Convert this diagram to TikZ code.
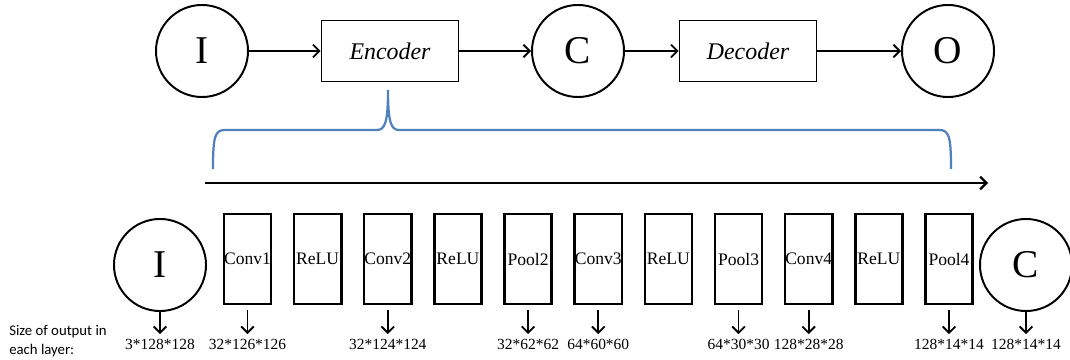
\documentclass[tikz,border=0pt]{standalone}
\usepackage{fontspec}
\setmainfont{Liberation Serif}
\newfontfamily\calibrifont{Carlito}
\usetikzlibrary{arrows.meta}
\definecolor{braceblue}{RGB}{79,129,189}
\tikzstyle{ring}=[shape=circle,minimum size=2.3cm,inner sep=0,line width=1.4pt,draw,font=\fontsize{28}{28}\selectfont]
\tikzstyle{coder}=[rectangle,minimum width=3.43cm,minimum height=1.53cm,draw,line width=1pt,font=\fontsize{17}{17}\selectfont\itshape]
\tikzstyle{layer}=[rectangle,minimum width=1.18cm,minimum height=2.25cm,inner sep=0,draw,line width=1.8pt,font=\fontsize{12.5}{12.5}\selectfont]
\tikzstyle{size}=[inner sep=0,anchor=north,font=\fontsize{11}{11}\selectfont]
\tikzstyle{arrow}=[line width=1.3pt,-{Straight Barb[length=4.5pt,width=9pt]}]
\tikzstyle{brace}=[line width=1.6pt,draw=braceblue]

\begin{document}
\begin{tikzpicture}[x=0.025cm,y=-0.025cm]
\useasboundingbox (0,0) rectangle (1070,360);
\node[ring] (I) at (202,51) {I};
\node[coder] (enc) at (390,51) {Encoder};
\node[ring] (C) at (578,51) {C};
\node[coder] (dec) at (748,51) {Decoder};
\node[ring] (O) at (948,51) {O};
\draw[arrow] (I)--(enc);
\draw[arrow] (enc)--(C);
\draw[arrow] (C)--(dec);
\draw[arrow] (dec)--(O);
% brace under the encoder
\coordinate (tip) at (388,90);
\draw[brace] (213,169) .. controls (213,136) and (215,130) .. (225,130) -- (377,130)
  .. controls (385,130) and (388,122) .. (tip) .. controls (388,122) and (391,130) .. (399,130)
  -- (939,130) .. controls (949,130) and (951,136) .. (951,169);
\coordinate (flowstart) at (205,183);
\coordinate (flowend) at (988,183);
\draw[arrow,line width=1.6pt] (flowstart)--(flowend);
\node[ring] (in) at (160,265) {I};
\foreach \txt [count=\i] in {Conv1,ReLU,Conv2,ReLU,Pool2,Conv3,ReLU,Pool3,Conv4,ReLU,Pool4}
  \node[layer] (l\i) at (177.35+70.15*\i,259) {\txt};
\node[ring] (out) at (1026,265) {C};
\foreach \n/\s in {in/3*128*128,l1/32*126*126,l3/32*124*124,l5/32*62*62,l6/64*60*60,l8/64*30*30,l9/128*28*28,l11/128*14*14,out/128*14*14}{
  \node[size] (s\n) at (\n.south |- 0,339) {\s};
  \draw[arrow,shorten >=3.5pt] (\n.south |- 0,310)--(s\n.north);
}
\node[font=\calibrifont\fontsize{10.5}{13.5}\selectfont,align=left,anchor=west,inner sep=0] (caption) at (9,341) {Size of output in\\each layer:};
\end{tikzpicture}
\end{document}
